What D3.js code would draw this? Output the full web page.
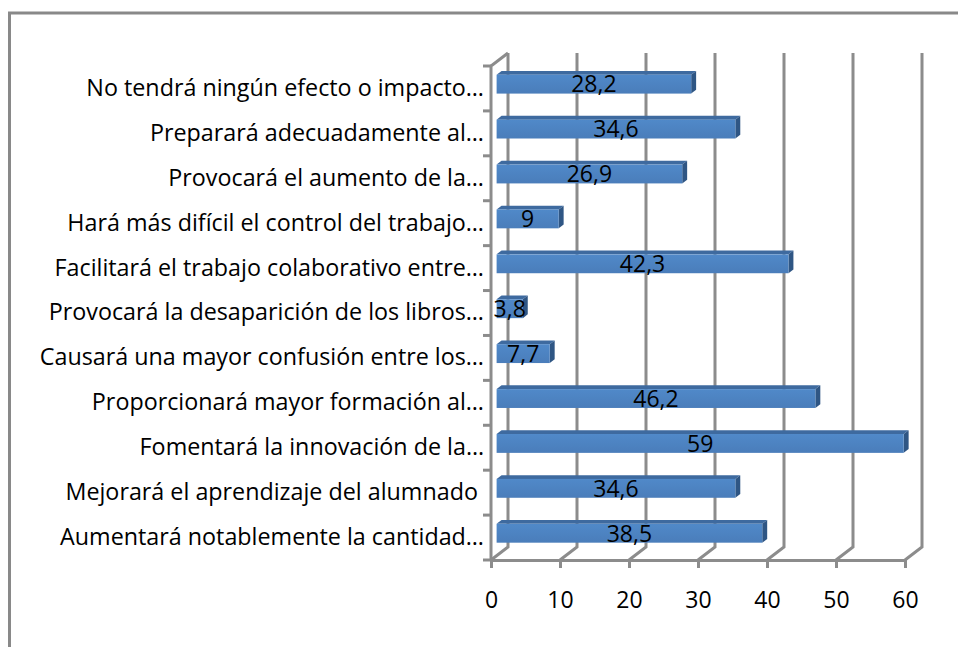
<!DOCTYPE html>
<html>
<head>
<meta charset="utf-8">
<script src="https://cdn.jsdelivr.net/npm/d3@7"></script>
<style>
  body { margin: 0; background: #fff; }
  text { font-family: "Open Sans", sans-serif; fill: #000; }
</style>
</head>
<body>
<div id="chart"></div>
<script>
// categories, top to bottom as drawn
const categories = [
  "No tendrá ningún efecto o impacto…",
  "Preparará adecuadamente al…",
  "Provocará el aumento de la…",
  "Hará más difícil el control del trabajo…",
  "Facilitará el trabajo colaborativo entre…",
  "Provocará la desaparición de los libros…",
  "Causará una mayor confusión entre los…",
  "Proporcionará mayor formación al…",
  "Fomentará la innovación de la…",
  "Mejorará el aprendizaje del alumnado ",
  "Aumentará notablemente la cantidad…"
];
const values = [28.2, 34.6, 26.9, 9, 42.3, 3.8, 7.7, 46.2, 59, 34.6, 38.5];
const tickValues = [0, 10, 20, 30, 40, 50, 60];

const width = 958, height = 647;
const depth = { x: 17, y: -13 };      // 3d offset from front to back wall
const barDepth = [0.33, 0.62];        // bar position within the depth
const gridColor = "#8c8c8c";
const fontFamily = "'Open Sans', sans-serif";

const svg = d3.select("#chart").append("svg")
  .attr("width", width)
  .attr("height", height);

// outer frame (runs past the right and bottom edges)
svg.append("rect")
  .attr("x", 9.5).attr("y", 13)
  .attr("width", 1000).attr("height", 700)
  .attr("fill", "none")
  .attr("stroke", "#898989")
  .attr("stroke-width", 3);

const x = d3.scaleLinear().domain([0, 60]).range([491, 905]);
const y = d3.scaleBand().domain(categories).range([66, 560]);
const floorY = y.range()[1];
const topY = y.range()[0];

// back wall gridlines + floor diagonals
const grid = svg.append("g")
  .attr("stroke", gridColor)
  .attr("stroke-width", 3)
  .attr("fill", "none");

grid.selectAll("path.gl")
  .data(tickValues)
  .enter().append("path")
  .attr("class", "gl")
  .attr("d", d => `M${x(d)},${floorY} L${x(d) + depth.x},${floorY + depth.y} L${x(d) + depth.x},${topY + depth.y}`);

// left wall front edge + top diagonal
grid.append("path")
  .attr("d", `M${x(0)},${floorY} L${x(0)},${topY} L${x(0) + depth.x},${topY + depth.y}`);

// category tick marks at band boundaries
const bounds = categories.map(c => y(c)).concat([floorY]);
grid.selectAll("line.ct")
  .data(bounds)
  .enter().append("line")
  .attr("class", "ct")
  .attr("x1", x(0) - 8).attr("x2", x(0))
  .attr("y1", d => d).attr("y2", d => d);

// bottom axis
const xAxis = svg.append("g")
  .attr("transform", `translate(0,${floorY})`)
  .call(d3.axisBottom(x).tickValues(tickValues).tickSize(8).tickSizeOuter(0).tickPadding(24));
xAxis.select(".domain").attr("stroke", gridColor).attr("stroke-width", 3);
xAxis.selectAll(".tick line").attr("stroke", gridColor).attr("stroke-width", 3);
xAxis.selectAll(".tick text").attr("font-size", "23px").attr("font-family", fontFamily).attr("fill", "#000");

// category labels
const yAxis = svg.append("g")
  .attr("transform", `translate(${x(0)},0)`)
  .call(d3.axisLeft(y).tickSize(0).tickPadding(7));
yAxis.select(".domain").remove();
const catText = yAxis.selectAll(".tick text")
  .attr("font-size", "20px")
  .attr("font-family", fontFamily)
  .attr("fill", "#000")
  .style("white-space", "pre");

// fit the label font so the longest label spans like the original (~398px)
const firstLen = catText.node().getComputedTextLength();
const catSize = 20 * 398 / firstLen;
catText.attr("font-size", catSize + "px");

// bars
const defs = svg.append("defs");
const grad = defs.append("linearGradient")
  .attr("id", "barFront").attr("x1", 0).attr("x2", 0).attr("y1", 0).attr("y2", 1);
grad.append("stop").attr("offset", "0%").attr("stop-color", "#5089c9");
grad.append("stop").attr("offset", "100%").attr("stop-color", "#4a7dba");

const barH = y.bandwidth() * 0.42;
const f = { x: depth.x * barDepth[0], y: depth.y * barDepth[0] };
const b = { x: depth.x * barDepth[1], y: depth.y * barDepth[1] };

const bars = svg.append("g").selectAll("g.bar")
  .data(categories.map((c, i) => ({ c, v: values[i] })))
  .enter().append("g").attr("class", "bar");

bars.each(function (d) {
  const g = d3.select(this);
  const x0 = x(0) + f.x, x1 = x(d.v) + f.x;
  const yt = y(d.c) + (y.bandwidth() - barH) / 2 + f.y;
  const yb = yt + barH;
  const dx = b.x - f.x, dy = b.y - f.y;
  // top face
  g.append("path")
    .attr("d", `M${x0},${yt} L${x0 + dx},${yt + dy} L${x1 + dx},${yt + dy} L${x1},${yt} Z`)
    .attr("fill", "#3e6a9f");
  // side face
  g.append("path")
    .attr("d", `M${x1},${yt} L${x1 + dx},${yt + dy} L${x1 + dx},${yb + dy} L${x1},${yb} Z`)
    .attr("fill", "#2f5684");
  // front face
  g.append("rect")
    .attr("x", x0).attr("y", yt)
    .attr("width", x1 - x0).attr("height", barH)
    .attr("fill", "url(#barFront)");
  // value label
  g.append("text")
    .attr("x", (x0 + x1) / 2)
    .attr("y", (yt + yb) / 2)
    .attr("dy", "0.36em")
    .attr("text-anchor", "middle")
    .attr("font-size", "23px")
    .attr("font-family", fontFamily)
    .text(String(d.v).replace(".", ","));
});
</script>
</body>
</html>
